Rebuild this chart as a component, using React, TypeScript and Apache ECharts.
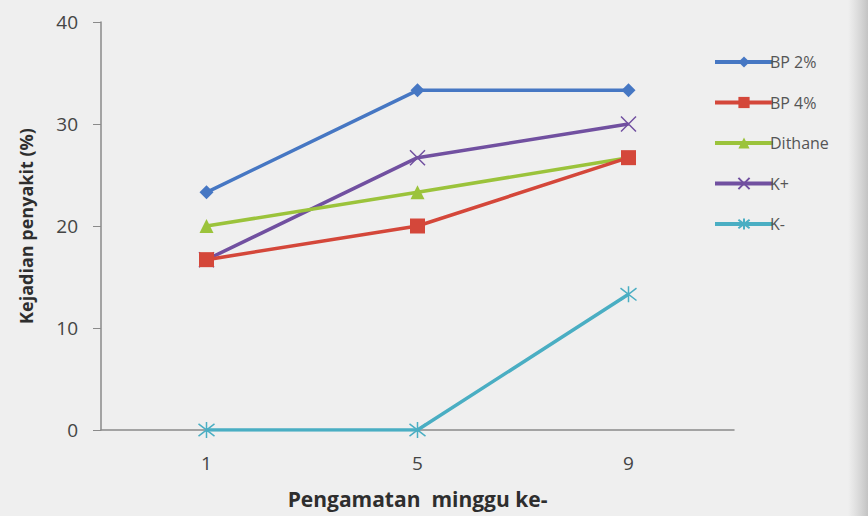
import React, { useEffect, useRef } from "react";
import * as echarts from "echarts";

const weeks = ["1", "5", "9"];
const bp2 = [23.3, 33.3, 33.3];
const bp4 = [16.7, 20, 26.7];
const dithane = [20, 23.3, 26.7];
const kPlus = [16.7, 26.7, 30];
const kMinus = [0, 0, 13.3];

const seriesNames = ["BP 2%", "BP 4%", "Dithane", "K+", "K-"];
const colors = ["#4677c3", "#d4473a", "#9bc33b", "#7150a0", "#4aaec3"];

const crossSymbol = "path://M0 0 L10 10 M10 0 L0 10";
const starSymbol = "path://M0 0 L10 10 M10 0 L0 10 M5 -1.5 L5 11.5";

export default function App() {
  const ref = useRef<HTMLDivElement>(null);

  useEffect(() => {
    document.body.style.margin = "0";
    const chart = echarts.init(ref.current!, null, { renderer: "svg" });
    const values = [bp2, bp4, dithane, kPlus, kMinus];
    const symbols = ["diamond", "rect", "triangle", crossSymbol, starSymbol];
    const sizes = [14, 15, 14, 15, 16];
    const font = "'Open Sans', sans-serif";

    chart.setOption({
      animation: false,
      backgroundColor: "#efefef",
      textStyle: { fontFamily: font },
      graphic: [
        {
          type: "rect",
          left: 848,
          top: 0,
          shape: { width: 20, height: 516 },
          style: {
            fill: new echarts.graphic.LinearGradient(0, 0, 1, 0, [
              { offset: 0, color: "rgba(200,200,200,0)" },
              { offset: 1, color: "rgba(190,190,190,0.9)" },
            ]),
          },
          z: -1,
        },
      ],
      legend: {
        orient: "vertical",
        left: 708,
        top: 47,
        itemWidth: 58,
        itemHeight: 14,
        itemGap: 20.5,
        lineStyle: { width: 4 },
        textStyle: {
          fontSize: 16,
          color: "#555",
          fontFamily: font,
          padding: [0, 0, 0, -8],
          lineHeight: 20,
        },
        data: seriesNames,
      },
      grid: { left: 101, right: 134, top: 22, bottom: 86, outerBoundsMode: "none", containLabel: false },
      xAxis: {
        type: "category",
        data: weeks,
        boundaryGap: true,
        axisLine: { lineStyle: { color: "#8a8a8a", width: 1.5 } },
        axisTick: { show: false },
        axisLabel: { fontSize: 19, color: "#444", margin: 23 },
        name: "Pengamatan  minggu ke-",
        nameLocation: "middle",
        nameGap: 58,
        nameTextStyle: { fontSize: 21, fontWeight: "bold", color: "#2e2e2e" },
      },
      yAxis: {
        type: "value",
        min: 0,
        max: 40,
        interval: 10,
        splitLine: { show: false },
        axisLine: { show: true, lineStyle: { color: "#8a8a8a", width: 1.5 } },
        axisTick: { show: true, length: 8, lineStyle: { color: "#8a8a8a" } },
        axisLabel: { fontSize: 19, color: "#444", margin: 23 },
        name: "Kejadian penyakit (%)",
        nameLocation: "middle",
        nameGap: 66,
        nameTextStyle: { fontSize: 18, fontWeight: "bold", color: "#2e2e2e" },
      },
      series: seriesNames.map((name, i) => ({
        name,
        type: "line",
        data: values[i],
        symbol: symbols[i],
        symbolSize: sizes[i],
        showAllSymbol: true,
        lineStyle: { color: colors[i], width: 3.5 },
        itemStyle: {
          color: colors[i],
          borderColor: colors[i],
          borderWidth: i >= 3 ? 1.5 : 0,
        },
        z: 10 - i,
      })),
    });

    return () => chart.dispose();
  }, []);

  return <div ref={ref} style={{ width: 868, height: 516 }} />;
}
